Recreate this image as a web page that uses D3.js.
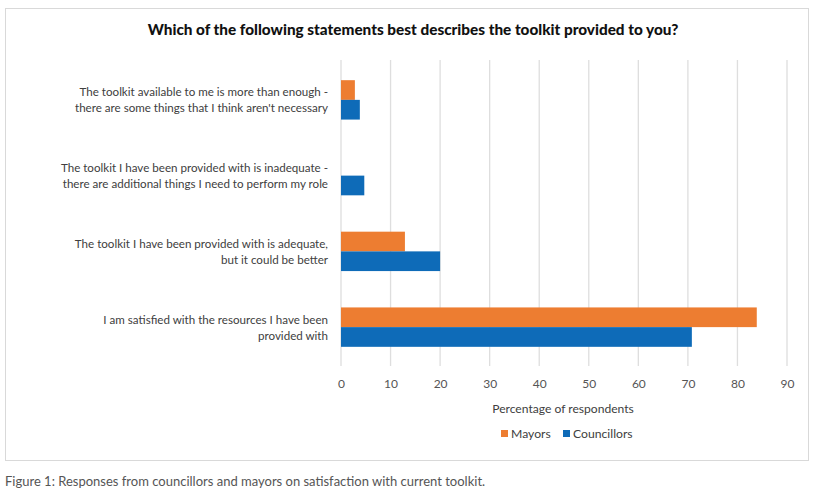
<!DOCTYPE html>
<html><head><meta charset="utf-8">
<script src="https://cdn.jsdelivr.net/npm/d3@7"></script>
<style>body{margin:0;background:#fff;}svg{display:block;font-family:Lato,"Open Sans",sans-serif;}</style>
</head><body>
<svg id="c" width="818" height="496"></svg>
<script>
const categories = [
  ["The toolkit available to me is more than enough -", "there are some things that I think aren't necessary"],
  ["The toolkit I have been provided with is inadequate -", "there are additional things I need to perform my role"],
  ["The toolkit I have been provided with is adequate,", "but it could be better"],
  ["I am satisfied with the resources I have been", "provided with"]
];
const seriesNames = ["Mayors", "Councillors"];
const mayors = [2.8, 0, 12.9, 83.9];
const councillors = [3.8, 4.7, 20.0, 70.8];
const ticks = [0,10,20,30,40,50,60,70,80,90];
const colors = {"Mayors":"#ED7D31","Councillors":"#0E6BB8"};

const svg = d3.select("#c");
svg.append("rect").attr("x",5.5).attr("y",8.5).attr("width",803).attr("height",452)
  .attr("fill","#fff").attr("stroke","#d9d9d9");

svg.append("text").attr("x",413).attr("y",35).attr("text-anchor","middle")
  .attr("font-size",15.3).attr("font-weight","900").attr("fill","#111")
  .text("Which of the following statements best describes the toolkit provided to you?");

const x = d3.scaleLinear().domain([0,90]).range([341,787]);
const y = d3.scaleBand().domain(d3.range(categories.length)).range([62,365]).paddingInner(0.48).paddingOuter(0.24);
const sub = d3.scaleBand().domain(seriesNames).range([0,y.bandwidth()]);

svg.append("g").selectAll("line").data(ticks).join("line")
  .attr("x1",d=>x(d)).attr("x2",d=>x(d)).attr("y1",60).attr("y2",366)
  .attr("stroke","#dedede").attr("stroke-width",1.3);

const data = [mayors, councillors];
seriesNames.forEach((s,si)=>{
  svg.append("g").selectAll("rect").data(data[si]).join("rect")
    .attr("x",x(0)).attr("y",(d,i)=>y(i)+sub(s))
    .attr("width",d=>x(d)-x(0)).attr("height",sub.bandwidth())
    .attr("fill",colors[s]);
});

const lab = svg.append("g");
categories.forEach((c,i)=>{
  const cy = y(i)+y.bandwidth()/2;
  const t = lab.append("text").attr("text-anchor","end").attr("font-size",11.6).attr("fill","#404040");
  c.forEach((line,j)=>{
    t.append("tspan").attr("x",328).attr("y",cy + (j-0.5)*16 + 4.5).text(line);
  });
});

const ax = svg.append("g").attr("transform","translate(0,366)")
  .call(d3.axisBottom(x).tickValues(ticks).tickSize(0).tickPadding(13));
ax.select(".domain").remove();
ax.selectAll("text").attr("font-size",12).attr("fill","#555").attr("font-family","Lato,sans-serif");

svg.append("text").attr("x",563).attr("y",413).attr("text-anchor","middle")
  .attr("font-size",12.1).attr("fill","#404040").text("Percentage of respondents");

const leg = svg.append("g");
const legX = [501, 563];
seriesNames.forEach((s,i)=>{
  leg.append("rect").attr("x",legX[i]).attr("y",430).attr("width",7).attr("height",7).attr("fill",colors[s]);
  leg.append("text").attr("x",legX[i]+10).attr("y",438).attr("font-size",12.2).attr("fill","#404040").text(s);
});

svg.append("text").attr("x",5).attr("y",486).attr("font-size",13).attr("fill","#555")
  .text("Figure 1: Responses from councillors and mayors on satisfaction with current toolkit.");
</script>
</body></html>
